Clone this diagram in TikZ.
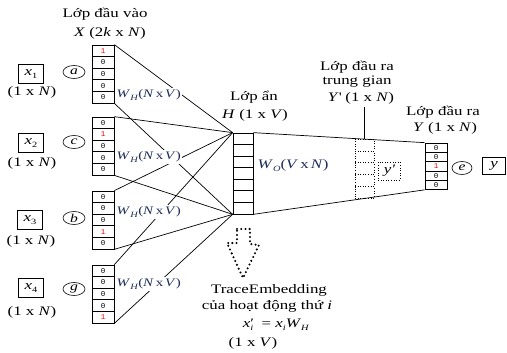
\documentclass[tikz,border=0pt]{standalone}
\usepackage{fontspec}
\setmainfont{Liberation Serif}[FakeStretch=1.3]
\newfontfamily\cellfont{Liberation Mono}
\usetikzlibrary{shapes.geometric}

\definecolor{wlabel}{RGB}{30,45,90}
\newcommand\hot{\textcolor{red}{1}}
\newcommand\lowsub[1]{\raisebox{-0.5ex}{\footnotesize #1}}

% a column of cells: name, x centre, top y, cell height, style, entries
\newcommand\cellcolumn[6]{%
  \foreach \val [count=\k] in {#6} {
    \node[#5, minimum height=#4pt] (#1-\k) at (#2, {#3+(\k-0.5)*#4}) {\val};
  }}

\tikzset{
  conn/.style={line width=0.7pt},
  cell/.style={draw, line width=0.7pt, minimum width=22pt, inner sep=0pt,
    font=\cellfont\fontsize{7.5}{7.5}\selectfont},
  hcell/.style={draw, line width=0.7pt, minimum width=20pt, inner sep=0pt},
  ghostcell/.style={draw, dotted, line width=0.6pt, minimum width=19pt, inner sep=0pt},
  txt/.style={inner sep=0pt, font=\fontsize{13}{15}\selectfont},
  wtag/.style={fill=white, inner sep=1.5pt, text=wlabel, font=\fontsize{11.5}{13}\selectfont},
  xbox/.style={draw, line width=0.7pt, minimum width=25pt, minimum height=19pt, inner sep=0pt,
    font=\fontsize{13}{15}\selectfont},
  tag/.style={draw, ellipse, line width=0.6pt, minimum width=22pt, minimum height=13pt, inner sep=0pt,
    font=\itshape\fontsize{12}{14}\selectfont},
}

\begin{document}
\begin{tikzpicture}[x=1pt,y=-1pt]
\useasboundingbox (0,0) rectangle (507,353);

% input layer: four one-hot vectors
\cellcolumn{v1}{103}{45}{11.6}{cell}{\hot,0,0,0,0}
\cellcolumn{v2}{103}{117}{11.6}{cell}{0,\hot,0,0,0}
\cellcolumn{v3}{103}{191}{11.6}{cell}{0,0,0,\hot,0}
\cellcolumn{v4}{103}{265}{11.6}{cell}{0,0,0,0,\hot}

% hidden layer
\cellcolumn{h}{243}{133}{11.57}{hcell}{{},{},{},{},{},{},{}}

% intermediate output (dotted) and output layer
\cellcolumn{yp}{364.5}{139}{11.9}{ghostcell}{{},{},{},{},{}}
\cellcolumn{out}{436}{143}{9.3}{cell}{0,0,\hot,0,0}

% weights from every input vector into the hidden layer
\foreach \i in {1,...,4} {
  \draw[conn] (v\i-1.north east) -- (h-1.north west);
  \draw[conn] (v\i-5.south east) -- (h-7.south west);
}
% weights from the hidden layer to the output layer
\draw[conn] (h-1.north east) -- (out-1.north west);
\draw[conn] (h-7.south east) -- (out-5.south west);

% weight labels
\node[wtag, anchor=west] (w1) at (115,95) {\textit{W}\lowsub{\textit{H}}(\textit{N}\,x\,\textit{V})};
\node[wtag, anchor=west] (w2) at (115,157) {\textit{W}\lowsub{\textit{H}}(\textit{N}\,x\,\textit{V})};
\node[wtag, anchor=west] (w3) at (115,212) {\textit{W}\lowsub{\textit{H}}(\textit{N}\,x\,\textit{V})};
\node[wtag, anchor=west] (w4) at (115,284) {\textit{W}\lowsub{\textit{H}}(\textit{N}\,x\,\textit{V})};
\node[wtag, anchor=west, font=\fontsize{13}{15}\selectfont] (wo) at (256,166)
  {\textit{W}\lowsub{\textit{O}}(\textit{V}\,x\,\textit{N})};

% input layer captions
\node[txt] (inlbl) at (105,14) {Lớp đầu vào};
\node[txt] (indim) at (110,33) {\textit{X} (2\textit{k} x \textit{N})};

% activity symbols
\node[xbox] (x1) at (31,74) {\textit{x}\lowsub{1}};
\node[xbox] (x2) at (31,143) {\textit{x}\lowsub{2}};
\node[xbox] (x3) at (30,220) {\textit{x}\lowsub{3}};
\node[xbox] (x4) at (31,288) {\textit{x}\lowsub{4}};
\node[txt] (x1d) at (32,92) {(1 x \textit{N})};
\node[txt] (x2d) at (32,163) {(1 x \textit{N})};
\node[txt] (x3d) at (31,241) {(1 x \textit{N})};
\node[txt] (x4d) at (32,312) {(1 x \textit{N})};
\node[tag] (ta) at (74,72) {a};
\node[tag] (tc) at (74,142) {c};
\node[tag] (tb) at (74,218) {b};
\node[tag] (tg) at (74,289) {g};

% hidden layer captions
\node[txt] (hlbl) at (254,97) {Lớp ẩn};
\node[txt] (hdim) at (255,115) {\textit{H} (1 x \textit{V})};

% intermediate output captions
\node[txt] (yplbl1) at (357,67) {Lớp đầu ra};
\node[txt] (yplbl2) at (357,82) {trung gian};
\node[txt] (ypdim) at (361,98) {\textit{Y}\textquotesingle\ (1 x \textit{N})};
\draw[conn] (ypdim.south -| yp-1.north) ++(0,3) -- (yp-1.north);
\node[draw, dotted, line width=0.6pt, minimum width=22pt, minimum height=18pt, inner sep=0pt,
  font=\itshape\fontsize{13}{15}\selectfont] (ypsym) at (389,171) {y\textquotesingle};

% output captions
\node[txt] (outlbl) at (443,112) {Lớp đầu ra};
\node[txt] (outdim) at (445,128) {\textit{Y} (1 x \textit{N})};
\node[tag, minimum width=20pt] (te) at (462,168) {e};
\node[xbox, minimum width=23pt, minimum height=17pt, font=\itshape\fontsize{13}{15}\selectfont] (ysym) at (494,166) {y};

% dotted arrow pointing at the embedding
\draw[line width=2.3pt, dash pattern=on 0pt off 4.2pt, line cap=round]
  (237,229) -- (250,229) -- (250,244) -- (259,245) -- (243,278) -- (227,243) -- (237,243) -- cycle;

% embedding caption
\node[txt] (emb1) at (269,290) {TraceEmbedding};
\node[txt] (emb2) at (267,306) {của hoạt động thứ \textit{i}};
\node[txt] (emb3) at (276,325)
  {\textit{x}\rlap{′}\lowsub{\textit{i}}\ \ = \textit{x}\lowsub{\textit{i}}\textit{W}\lowsub{\textit{H}}};
\node[txt] (emb4) at (253,343) {(1 x \textit{V})};
\end{tikzpicture}
\end{document}
